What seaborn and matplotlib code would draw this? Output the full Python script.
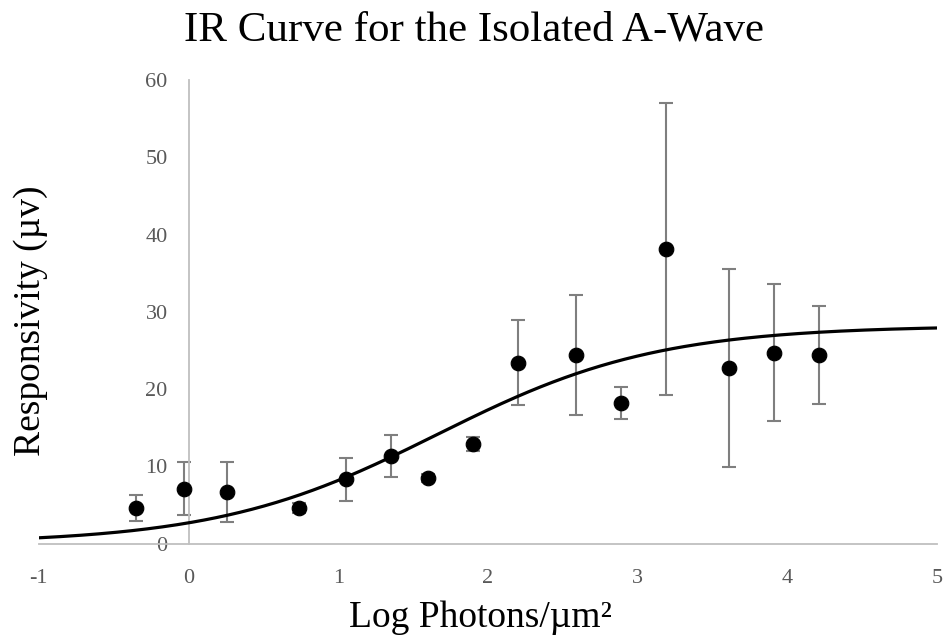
import numpy as np
import pandas as pd
import matplotlib
matplotlib.use("Agg")
import matplotlib.pyplot as plt
import seaborn as sns

# datos
log_photons = [-0.35, -0.03, 0.26, 0.74, 1.05, 1.35, 1.60, 1.90, 2.20, 2.59, 2.89, 3.19, 3.61, 3.91, 4.21]
responsivity = [4.6, 7.1, 6.7, 4.6, 8.3, 11.3, 8.5, 12.9, 23.4, 24.4, 18.2, 38.1, 22.7, 24.7, 24.4]
error = [1.7, 3.4, 3.9, 0.7, 2.8, 2.75, 0.5, 0.95, 5.5, 7.8, 2.1, 18.9, 12.8, 8.9, 6.4]

# parámetros del ajuste sigmoide
r_max = 28.2
slope = 0.59
x_half = 1.66

x_ticks = [-1, 0, 1, 2, 3, 4, 5]
y_ticks = [0, 10, 20, 30, 40, 50, 60]

df = pd.DataFrame({'x': log_photons, 'y': responsivity, 'err': error})
x_fit = np.linspace(-1, 5, 300)
df_fit = pd.DataFrame({'x': x_fit, 'y': r_max / (1 + 10 ** (-slope * (x_fit - x_half)))})

sns.set_style("white")
plt.rcParams['font.family'] = ['Liberation Serif', 'DejaVu Serif']
plt.rcParams['axes.unicode_minus'] = False

fig = plt.figure(figsize=(9.47, 6.42), dpi=100)
ax = fig.add_axes([0.041, 0.1534, 0.9484, 0.722])

ax.errorbar(df['x'], df['y'], yerr=df['err'], fmt='none', ecolor='#7f7f7f',
            elinewidth=1.5, capsize=5, capthick=1.5, zorder=2)
sns.lineplot(data=df_fit, x='x', y='y', color='black', linewidth=2.3, ax=ax, zorder=3)
sns.scatterplot(data=df, x='x', y='y', color='black', s=110, edgecolor='black', ax=ax, zorder=4)

ax.set_xlim(-1, 5)
ax.set_ylim(0, 60)
ax.set_xticks(x_ticks)
ax.set_yticks(y_ticks)
ax.set_xticklabels([str(t) for t in x_ticks])
ax.set_yticklabels([str(t) for t in y_ticks])
ax.set_xlabel('')
ax.set_ylabel('')

for s in ['top', 'right']:
    ax.spines[s].set_visible(False)
ax.spines['left'].set_position(('data', 0))
ax.spines['bottom'].set_position(('data', 0))
for s in ['left', 'bottom']:
    ax.spines[s].set_color('#bfbfbf')
    ax.spines[s].set_linewidth(1.3)

ax.tick_params(axis='both', length=0, labelsize=16, labelcolor='#595959')
ax.tick_params(axis='x', pad=18)
ax.tick_params(axis='y', pad=15)

fig.text(0.5, 0.953, 'IR Curve for the Isolated A-Wave', ha='center', va='center',
         fontsize=31, color='black')
fig.text(0.507, 0.037, 'Log Photons/µm²', ha='center', va='center', fontsize=27, color='black')
fig.text(0.032, 0.50, 'Responsivity (µv)', ha='center', va='center', rotation=90,
         fontsize=27, color='black')

fig.savefig('out.png', dpi=100)
